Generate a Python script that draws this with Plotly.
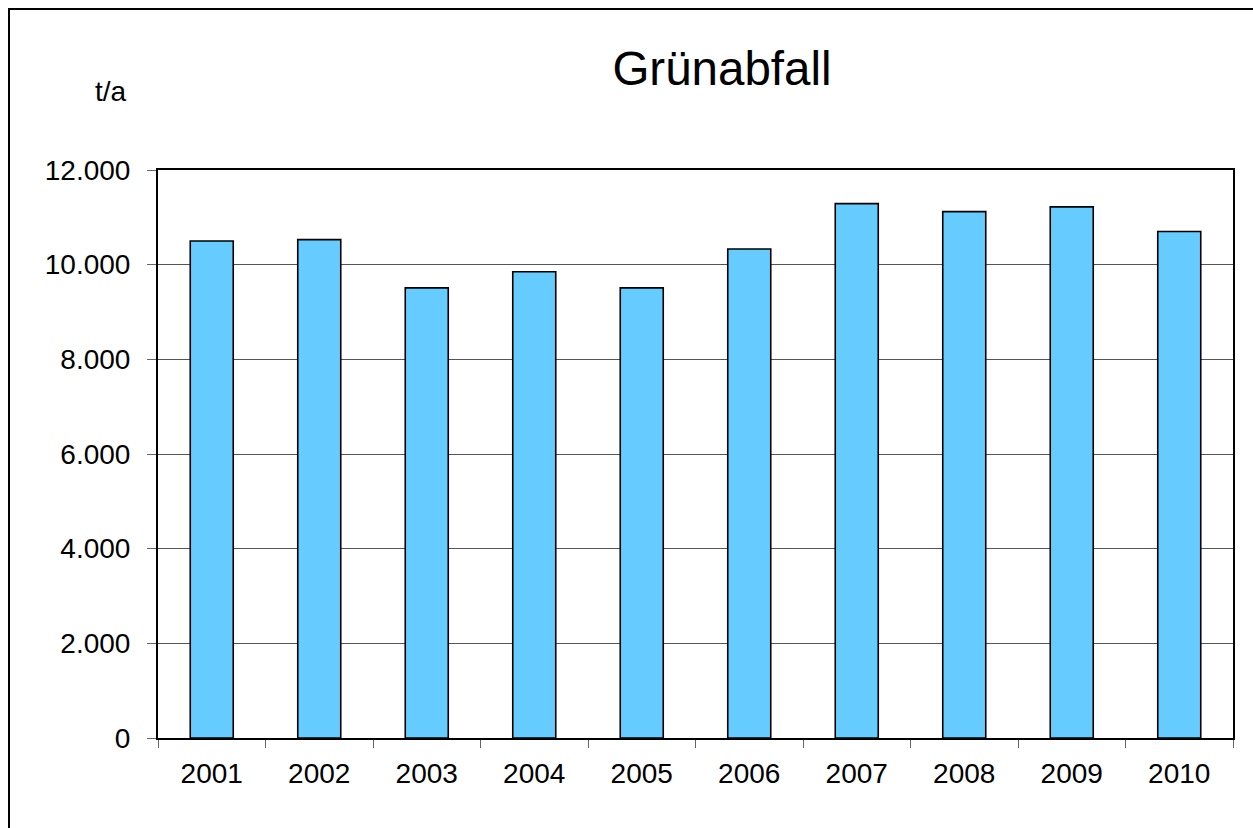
import plotly.graph_objects as go

years = ["2001", "2002", "2003", "2004", "2005", "2006", "2007", "2008", "2009", "2010"]
tonnes = [10500, 10530, 9510, 9850, 9510, 10330, 11290, 11120, 11220, 10700]
y_ticks = [0, 2000, 4000, 6000, 8000, 10000, 12000]

FONT = "Arial, 'Liberation Sans', sans-serif"

fig = go.Figure(
    go.Bar(
        x=years,
        y=tonnes,
        marker=dict(color="#66CCFF", line=dict(color="black", width=1.6)),
    )
)

# plot area in pixels: left 158, right 1233, top 170, bottom 738
L, R, T, B = 158, 1233, 170, 738
W, H = 1253, 828
pw, ph = R - L, B - T

fig.update_layout(
    width=W,
    height=H,
    margin=dict(l=L, r=W - R, t=T, b=H - B, autoexpand=False),
    paper_bgcolor="white",
    plot_bgcolor="white",
    separators=",.",
    bargap=0.6,
    showlegend=False,
    font=dict(family=FONT, color="black", size=28),
    title=dict(
        text="Grünabfall",
        font=dict(family=FONT, size=47.5, color="black"),
        x=722 / W,
        xref="container",
        xanchor="center",
        y=1 - 68 / H,
        yref="container",
        yanchor="middle",
    ),
)

fig.update_xaxes(
    type="category",
    showline=True,
    linecolor="black",
    linewidth=2,
    mirror=True,
    ticks="outside",
    tickson="boundaries",
    ticklen=8,
    tickcolor="#666666",
    tickwidth=1,
    showgrid=False,
    tickfont=dict(family=FONT, size=28, color="black"),
    ticklabelstandoff=9,
)

fig.update_yaxes(
    range=[0, 12000],
    tickvals=y_ticks,
    tickformat=",d",
    showline=True,
    linecolor="black",
    linewidth=2,
    mirror=True,
    ticks="outside",
    ticklen=9,
    tickcolor="#666666",
    tickwidth=1,
    showgrid=True,
    gridcolor="#555555",
    gridwidth=1,
    zeroline=False,
    tickfont=dict(family=FONT, size=28, color="black"),
    ticklabelstandoff=11,
)

# unit label above the value axis
fig.add_annotation(
    text="t/a",
    xref="paper",
    yref="paper",
    x=(129 - L) / pw,
    y=1 + (T - 91) / ph,
    xanchor="right",
    yanchor="middle",
    showarrow=False,
    font=dict(family=FONT, size=28, color="black"),
)

# outer chart frame
fig.add_shape(
    type="rect",
    xref="paper",
    yref="paper",
    x0=(9 - L) / pw,
    x1=(W + 20 - L) / pw,
    y0=-(H + 20 - B) / ph,
    y1=1 + (T - 9) / ph,
    line=dict(color="black", width=2),
    fillcolor="rgba(0,0,0,0)",
    layer="above",
)

fig.write_html("out.html")
